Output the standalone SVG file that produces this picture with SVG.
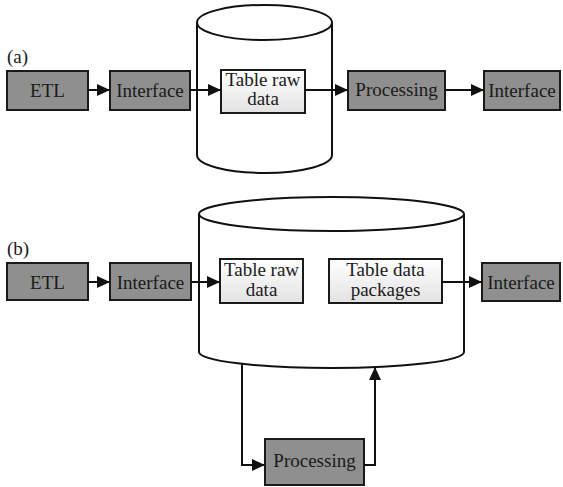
<svg xmlns="http://www.w3.org/2000/svg" width="563" height="487" viewBox="0 0 563 487">
  <defs>
    <linearGradient id="tableFill" x1="0" y1="0" x2="0" y2="1">
      <stop offset="0" stop-color="#ffffff"/>
      <stop offset="1" stop-color="#e2e2e2"/>
    </linearGradient>
    <marker id="arrow" markerUnits="userSpaceOnUse" markerWidth="13" markerHeight="12" refX="13" refY="6" orient="auto">
      <path d="M0,0 L13,6 L0,12 Z" fill="#111"/>
    </marker>
    <style>
      .box { fill: #8f8f8f; stroke: #1a1a1a; stroke-width: 2; }
      .table { fill: url(#tableFill); stroke: #1a1a1a; stroke-width: 2; }
      .cyl { fill: #ffffff; stroke: #111; stroke-width: 2; }
      text { font-family: 'Liberation Serif', 'DejaVu Serif', serif; font-size: 19px; fill: #1a1a1a; }
      .lbl { text-anchor: middle; }
      .conn { fill: none; stroke: #111; stroke-width: 2; marker-end: url(#arrow); }
    </style>
  </defs>

  <rect width="563" height="487" fill="#ffffff"/>

  <!-- (a) storage cylinder -->
  <g id="a-store">
    <path class="cyl" d="M197,22.5 V155 A67.5,18 0 0 0 332,155 V22.5"/>
    <ellipse class="cyl" cx="264.5" cy="22.5" rx="67.5" ry="17.5"/>
  </g>

  <!-- (b) storage cylinder -->
  <g id="b-store">
    <path class="cyl" d="M199,214 V352 A132.5,16 0 0 0 464,352 V214"/>
    <ellipse class="cyl" cx="331.5" cy="214" rx="132.5" ry="17"/>
  </g>

  <text x="7" y="63">(a)</text>
  <text x="7" y="255">(b)</text>

  <!-- (a) pipeline -->
  <g id="a-etl">
    <rect class="box" x="7" y="71" width="81" height="39"/>
    <text class="lbl" x="47.5" y="97">ETL</text>
  </g>
  <g id="a-interface-in">
    <rect class="box" x="110" y="71" width="80" height="39"/>
    <text class="lbl" x="150" y="97">Interface</text>
  </g>
  <g id="a-table-raw">
    <rect class="table" x="221" y="70" width="84" height="43"/>
    <text class="lbl" x="263" y="86">Table raw</text>
    <text class="lbl" x="263" y="105">data</text>
  </g>
  <g id="a-processing">
    <rect class="box" x="348" y="71" width="97" height="39"/>
    <text class="lbl" x="396.5" y="96">Processing</text>
  </g>
  <g id="a-interface-out">
    <rect class="box" x="484" y="71" width="76" height="39"/>
    <text class="lbl" x="522" y="97">Interface</text>
  </g>

  <!-- (b) pipeline -->
  <g id="b-etl">
    <rect class="box" x="7" y="263" width="81" height="37"/>
    <text class="lbl" x="47.5" y="289">ETL</text>
  </g>
  <g id="b-interface-in">
    <rect class="box" x="110" y="263" width="81" height="37"/>
    <text class="lbl" x="150.5" y="289">Interface</text>
  </g>
  <g id="b-table-raw">
    <rect class="table" x="220" y="259" width="83" height="44"/>
    <text class="lbl" x="261.5" y="276">Table raw</text>
    <text class="lbl" x="261.5" y="296">data</text>
  </g>
  <g id="b-table-packages">
    <rect class="table" x="329" y="259" width="113" height="44"/>
    <text class="lbl" x="385.5" y="276">Table data</text>
    <text class="lbl" x="385.5" y="296">packages</text>
  </g>
  <g id="b-interface-out">
    <rect class="box" x="482" y="263" width="78" height="38"/>
    <text class="lbl" x="521" y="289">Interface</text>
  </g>
  <g id="b-processing">
    <rect class="box" x="265" y="439" width="99" height="46"/>
    <text class="lbl" x="314.5" y="467">Processing</text>
  </g>

  <g id="connectors">
    <path class="conn" d="M88,90 H110"/>
    <path class="conn" d="M190,90 H221"/>
    <path class="conn" d="M305,90 H348"/>
    <path class="conn" d="M445,90 H484"/>

    <path class="conn" d="M88,282 H110"/>
    <path class="conn" d="M191,282 H220"/>
    <path class="conn" d="M442,282 H482"/>
    <path class="conn" d="M242,364 V465 H265"/>
    <path class="conn" d="M364,465 H375 V367"/>
  </g>
</svg>
